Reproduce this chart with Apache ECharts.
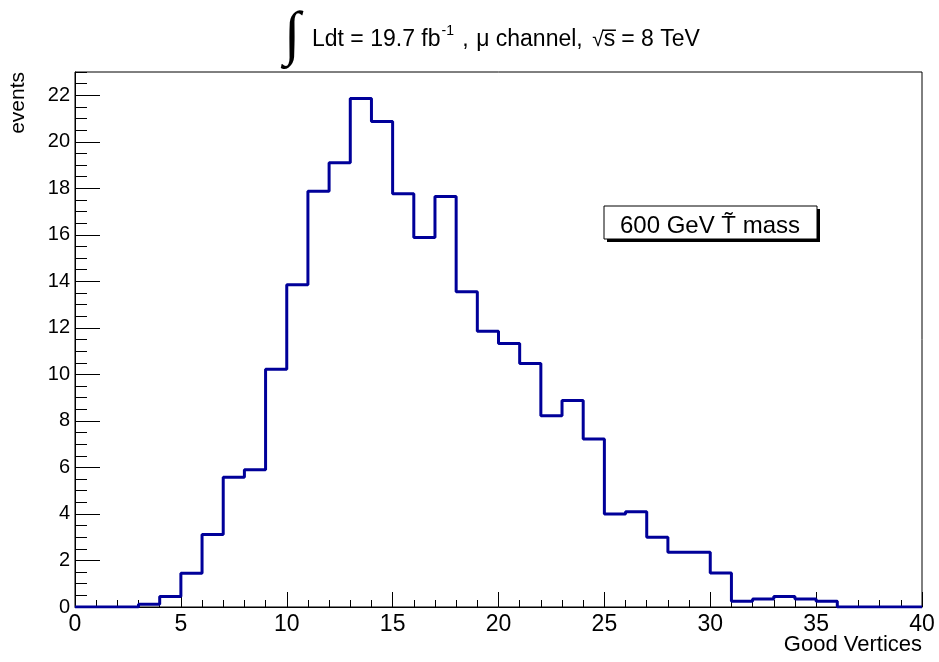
<!DOCTYPE html>
<html>
<head>
<meta charset="utf-8">
<script src="https://cdn.jsdelivr.net/npm/echarts@6/dist/echarts.min.js"></script>
<style>
  html, body { margin: 0; padding: 0; background: #fff; }
  #chart { width: 939px; height: 662px; }
</style>
</head>
<body>
<div id="chart"></div>
<script>
// Good-vertex multiplicity, one entry per unit-wide bin from 0 to 40
const binLow = 0;
const binWidth = 1;
const counts = [
  0, 0, 0, 0.12, 0.45, 1.45, 3.12, 5.58, 5.9, 10.22,
  13.85, 17.87, 19.1, 21.86, 20.87, 17.77, 15.88, 17.65, 13.55, 11.86,
  11.33, 10.47, 8.22, 8.88, 7.22, 4.0, 4.1, 3.0, 2.35, 2.35,
  1.46, 0.25, 0.34, 0.45, 0.34, 0.25, 0, 0, 0, 0
];

const xTicks = [0, 5, 10, 15, 20, 25, 30, 35, 40];
const yTicks = [0, 2, 4, 6, 8, 10, 12, 14, 16, 18, 20, 22];
const yMinorTicks = [];
for (let v = 0; v <= 23; v += 0.5) yMinorTicks.push(v);

const xTitle = 'Good Vertices';
const yTitle = 'events';
const legendText = '600 GeV T\u0303 mass';

// Histogram outline: vertical step at each left bin edge, flat across the bin
const outline = [[binLow, 0]];
counts.forEach((c, i) => outline.push([binLow + (i + 1) * binWidth, c]));

const FONT = '"Liberation Sans", Arial, Helvetica, sans-serif';
const chart = echarts.init(document.getElementById('chart'), null, { renderer: 'canvas' });

const grid = { left: 75, right: 17, top: 72, bottom: 55 };

chart.setOption({
  animation: false,
  backgroundColor: '#ffffff',
  grid: { ...grid, show: true, borderColor: '#000', borderWidth: 1, backgroundColor: 'transparent' },
  xAxis: [{
    type: 'value', min: 0, max: 40, interval: 5,
    axisLine: { show: true, lineStyle: { color: '#000', width: 1 } },
    axisTick: { show: true, inside: true, length: 15, lineStyle: { color: '#000' }, customValues: xTicks },
    minorTick: { show: true, splitNumber: 5, length: 7, lineStyle: { color: '#000' } },
    axisLabel: { customValues: xTicks, color: '#000', fontSize: 23, fontFamily: FONT, margin: 6 },
    splitLine: { show: false }
  }],
  yAxis: [{
    type: 'value', min: 0, max: 23,
    axisLine: { show: true, lineStyle: { color: '#000', width: 1 } },
    axisTick: { show: true, inside: true, length: 25, lineStyle: { color: '#000' }, customValues: yTicks },
    axisLabel: { customValues: yTicks, color: '#000', fontSize: 20, fontFamily: FONT, margin: 5 },
    splitLine: { show: false }
  }, {
    type: 'value', min: 0, max: 23, position: 'left',
    axisLine: { show: false },
    axisTick: { show: true, inside: true, length: 12, lineStyle: { color: '#000' }, customValues: yMinorTicks },
    axisLabel: { show: false },
    splitLine: { show: false }
  }],
  series: [{
    type: 'line',
    step: 'start',
    data: outline,
    symbol: 'none',
    lineStyle: { color: '#000099', width: 3 },
    z: 5
  }],
  graphic: [
    // integral sign
    { type: 'text', x: 292, y: 37, z: 10,
      style: { text: '\u222B', font: '60px "Liberation Serif", serif', fill: '#000', align: 'center', verticalAlign: 'middle' } },
    // title line
    { type: 'text', left: 312, top: 24, z: 10,
      style: {
        text: '{t|Ldt = 19.7 fb}{s|-1}{t| , }{m|\u03BC}{t| channel, }{r|\u221A}{t|s\u0305}{e|= 8 TeV}',
        rich: {
          t: { font: '23px ' + FONT, fill: '#000', verticalAlign: 'bottom', lineHeight: 27 },
          m: { font: '23px ' + FONT, fill: '#000', verticalAlign: 'bottom', lineHeight: 27, padding: [0, 0, 0, 1] },
          e: { font: '23px ' + FONT, fill: '#000', verticalAlign: 'bottom', lineHeight: 27, padding: [0, 0, 0, 6] },
          s: { font: '14px ' + FONT, fill: '#000', verticalAlign: 'top', lineHeight: 14, padding: [0, 2, 0, 1] },
          r: { font: '21px ' + FONT, fill: '#000', verticalAlign: 'bottom', lineHeight: 27, padding: [0, 0, 0, 3] }
        }
      } },
    // y axis title
    { type: 'text', x: 8, y: 72, rotation: Math.PI / 2, z: 10,
      style: { text: yTitle, font: '21px ' + FONT, fill: '#000', align: 'right', verticalAlign: 'top' } },
    // x axis title
    { type: 'text', x: 922, y: 645, z: 10,
      style: { text: xTitle, font: '22px ' + FONT, fill: '#000', align: 'right', verticalAlign: 'middle' } },
    // legend box with drop shadow
    { type: 'rect', shape: { x: 607, y: 209, width: 213, height: 33 }, z: 10,
      style: { fill: '#000' } },
    { type: 'rect', shape: { x: 604, y: 206, width: 213, height: 33 }, z: 11,
      style: { fill: '#fff', stroke: '#000', lineWidth: 1 } },
    { type: 'text', x: 710, y: 226, z: 12,
      style: { text: legendText, font: '24px ' + FONT, fill: '#000', align: 'center', verticalAlign: 'middle' } }
  ]
});
</script>
</body>
</html>
